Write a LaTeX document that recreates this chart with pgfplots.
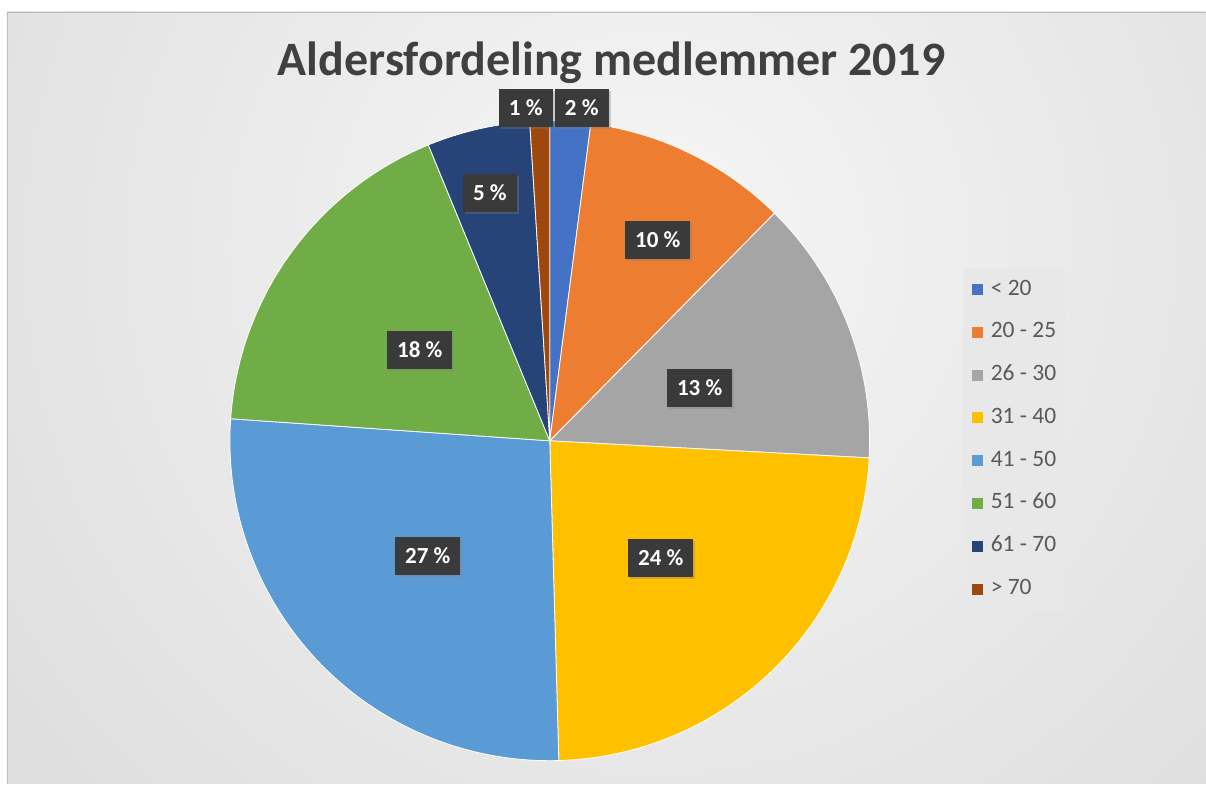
\documentclass[border=0pt]{standalone}
\usepackage{fontspec}
\setmainfont{Carlito}
\usepackage{pgfplots}
\pgfplotsset{compat=1.18}
\usetikzlibrary{shadows}
\definecolor{cA}{HTML}{4472C4}
\definecolor{cB}{HTML}{ED7D31}
\definecolor{cC}{HTML}{A5A5A5}
\definecolor{cD}{HTML}{FFC000}
\definecolor{cE}{HTML}{5B9BD5}
\definecolor{cF}{HTML}{70AD47}
\definecolor{cG}{HTML}{264478}
\definecolor{cH}{HTML}{9E480E}
\definecolor{bgin}{HTML}{F6F6F6}
\definecolor{bgout}{HTML}{C4C4C4}
\definecolor{bordergray}{HTML}{BDBDBD}
\definecolor{titlegray}{HTML}{404040}
\definecolor{txtgray}{HTML}{595959}
\definecolor{legfill}{HTML}{E8E8E8}
\definecolor{lblfill}{HTML}{3A3A3A}
\tikzset{lbl/.style={fill=lblfill, text=white,
    font=\fontsize{23bp}{27bp}\selectfont\bfseries,
    inner xsep=10bp, inner ysep=0pt, minimum height=38bp,
    drop shadow={opacity=0.35, shadow xshift=2bp, shadow yshift=-2bp}}}
\begin{document}
\begin{tikzpicture}
\fill[white] (0,0) rectangle (1206bp,784bp);
\begin{scope}
\clip (7bp,0) rectangle (1206bp,772bp);
\fill[bgout] (7bp,0) rectangle (1206bp,772bp);
\shade[inner color=bgin, outer color=bgout] (650bp,534bp) circle (1700bp);
\end{scope}
\draw[line width=1bp, bordergray] (7.5bp,0) -- (7.5bp,771.5bp) -- (1206bp,771.5bp);
\begin{axis}[
  at={(0,0)}, anchor=south west,
  scale only axis, width=1206bp, height=784bp,
  xmin=0, xmax=1206, ymin=0, ymax=784, y dir=reverse,
  hide axis, clip=false,
  legend cell align=left,
  legend image code/.code={\fill[#1,draw=none] (0bp,-5.5bp) rectangle (11bp,5.5bp);},
  legend style={at={(axis cs:963,268)}, anchor=north west,
    fill=legfill, draw=none, text=txtgray,
    font=\fontsize{23.5bp}{27bp}\selectfont,
    row sep=23.8bp, inner xsep=9bp, inner ysep=12bp,
    nodes={inner sep=0pt, text height=15bp, text depth=4bp},
    /tikz/every odd column/.append style={column sep=8bp}},
]
% shares (percent): 2.05, 10.35, 13.45, 23.70, 26.55, 17.70, 5.20, 1.00
% cumulative:  0, 2.05, 12.40, 25.85, 49.55, 76.10, 93.80, 99.00, 100
\addplot[fill=cA, draw=white, line width=0.8bp, domain={3.6*0}:{3.6*2.05}, samples=20, variable=\t]
  ({550+320*sin(\t)},{441-320*cos(\t)}) -- (axis cs:550,441) -- cycle;
\addlegendentry{< 20}
\addplot[fill=cB, draw=white, line width=0.8bp, domain={3.6*2.05}:{3.6*12.40}, samples=50, variable=\t]
  ({550+320*sin(\t)},{441-320*cos(\t)}) -- (axis cs:550,441) -- cycle;
\addlegendentry{20 - 25}
\addplot[fill=cC, draw=white, line width=0.8bp, domain={3.6*12.40}:{3.6*25.85}, samples=60, variable=\t]
  ({550+320*sin(\t)},{441-320*cos(\t)}) -- (axis cs:550,441) -- cycle;
\addlegendentry{26 - 30}
\addplot[fill=cD, draw=white, line width=0.8bp, domain={3.6*25.85}:{3.6*49.55}, samples=90, variable=\t]
  ({550+320*sin(\t)},{441-320*cos(\t)}) -- (axis cs:550,441) -- cycle;
\addlegendentry{31 - 40}
\addplot[fill=cE, draw=white, line width=0.8bp, domain={3.6*49.55}:{3.6*76.10}, samples=100, variable=\t]
  ({550+320*sin(\t)},{441-320*cos(\t)}) -- (axis cs:550,441) -- cycle;
\addlegendentry{41 - 50}
\addplot[fill=cF, draw=white, line width=0.8bp, domain={3.6*76.10}:{3.6*93.80}, samples=70, variable=\t]
  ({550+320*sin(\t)},{441-320*cos(\t)}) -- (axis cs:550,441) -- cycle;
\addlegendentry{51 - 60}
\addplot[fill=cG, draw=white, line width=0.8bp, domain={3.6*93.80}:{3.6*99.00}, samples=25, variable=\t]
  ({550+320*sin(\t)},{441-320*cos(\t)}) -- (axis cs:550,441) -- cycle;
\addlegendentry{61 - 70}
\addplot[fill=cH, draw=white, line width=0.8bp, domain={3.6*99.00}:{3.6*100}, samples=10, variable=\t]
  ({550+320*sin(\t)},{441-320*cos(\t)}) -- (axis cs:550,441) -- cycle;
\addlegendentry{> 70}
\node[anchor=base, text=titlegray, font=\fontsize{48bp}{56bp}\selectfont\bfseries]
  at (axis cs:612,76) {Aldersfordeling medlemmer 2019};
\node[lbl] at (axis cs:526,108) {1 \%};
\node[lbl] at (axis cs:582,108) {2 \%};
\node[lbl] at (axis cs:658,240) {10 \%};
\node[lbl] at (axis cs:700,388) {13 \%};
\node[lbl] at (axis cs:661,558) {24 \%};
\node[lbl] at (axis cs:428,556) {27 \%};
\node[lbl] at (axis cs:420,350) {18 \%};
\node[lbl] at (axis cs:490,193) {5 \%};
\end{axis}
\end{tikzpicture}
\end{document}
